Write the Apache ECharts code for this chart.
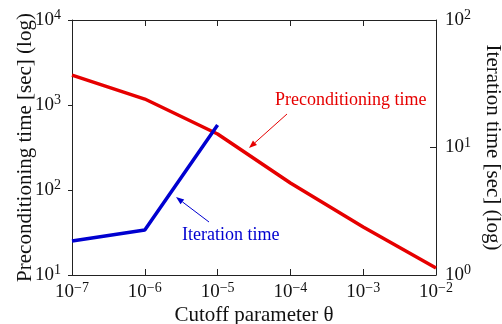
<!DOCTYPE html>
<html><head><meta charset="utf-8">
<script src="https://cdn.jsdelivr.net/npm/echarts@6/dist/echarts.min.js"></script>
<style>html,body{margin:0;padding:0;background:#fff}#c{width:502px;height:324px}</style>
</head><body><div id="c"></div>
<script>
const cutoff = [1e-7, 1e-6, 1e-5, 1e-4, 1e-3, 1e-2];
const precondTime = [2250, 1175, 456, 121, 36.7, 12.1];
const iterCutoff = [1e-7, 1e-6, 1e-5];
const iterTime = [1.85, 2.25, 15.0];

const FONT = '"Liberation Serif","DejaVu Serif",serif';
const RED = '#e60000', BLUE = '#0000d0';

function supLabel(v) {
  const e = Math.round(Math.log10(v));
  return '{b|10}{s|' + String(e).replace('-', '\u2212') + '}';
}
const rich = {
  b: {fontFamily: FONT, fontSize: 19, color: '#111'},
  s: {fontFamily: FONT, fontSize: 14, color: '#111', padding: [0, 0, 9, 0]}
};

function arrow(x1, y1, x2, y2, color) {
  const a = Math.atan2(y2 - y1, x2 - x1), L = 8, W = 3;
  const bx = x2 - L * Math.cos(a), by = y2 - L * Math.sin(a);
  const px = -Math.sin(a) * W, py = Math.cos(a) * W;
  return [
    {type: 'line', shape: {x1: x1, y1: y1, x2: bx, y2: by}, style: {stroke: color, lineWidth: 1}},
    {type: 'polygon', shape: {points: [[x2, y2], [bx + px, by + py], [bx - px, by - py]]}, style: {fill: color}}
  ];
}

const chart = echarts.init(document.getElementById('c'));
chart.setOption({
  animation: false,
  backgroundColor: '#fff',
  grid: {left: 72, right: 66, top: 20, bottom: 49, containLabel: false, outerBoundsMode: 'none'},
  xAxis: [{
    type: 'log', min: 1e-7, max: 1e-2, logBase: 10,
    name: 'Cutoff parameter \u03b8', nameLocation: 'middle', nameGap: 30, nameMoveOverlap: false,
    nameTextStyle: {fontFamily: FONT, fontSize: 21, color: '#111', verticalAlign: 'top'},
    axisLine: {lineStyle: {color: '#222', width: 1}},
    axisTick: {inside: true, length: 6, lineStyle: {color: '#222'}},
    minorTick: {show: false},
    splitLine: {show: false},
    axisLabel: {formatter: supLabel, rich: rich, margin: 6}
  }, {
    type: 'log', min: 1e-7, max: 1e-2, logBase: 10, position: 'top',
    axisLine: {lineStyle: {color: '#222', width: 1}},
    axisTick: {inside: true, length: 6, lineStyle: {color: '#222'}},
    splitLine: {show: false},
    axisLabel: {show: false}
  }],
  yAxis: [{
    type: 'log', min: 10, max: 1e4, logBase: 10, position: 'left',
    name: 'Preconditioning time [sec] (log)', nameLocation: 'middle', nameGap: 36, nameRotate: 90, nameMoveOverlap: false,
    nameTextStyle: {fontFamily: FONT, fontSize: 21, color: '#111'},
    axisLine: {show: true, lineStyle: {color: '#222', width: 1}},
    axisTick: {show: true, inside: false, length: 4, lineStyle: {color: '#222'}},
    splitLine: {show: false},
    axisLabel: {formatter: supLabel, rich: rich, margin: 11}
  }, {
    type: 'log', min: 1, max: 100, logBase: 10, position: 'right',
    name: 'Iteration time [sec] (log)', nameLocation: 'middle', nameGap: 46, nameRotate: -90, nameMoveOverlap: false,
    nameTextStyle: {fontFamily: FONT, fontSize: 21, color: '#111'},
    axisLine: {show: true, lineStyle: {color: '#222', width: 1}},
    axisTick: {show: true, inside: true, length: 6, lineStyle: {color: '#222'}},
    splitLine: {show: false},
    axisLabel: {formatter: supLabel, rich: rich, margin: 9}
  }],
  series: [{
    type: 'line', xAxisIndex: 0, yAxisIndex: 0,
    data: cutoff.map((x, i) => [x, precondTime[i]]),
    symbol: 'none', lineStyle: {color: RED, width: 3.5}
  }, {
    type: 'line', xAxisIndex: 0, yAxisIndex: 1,
    data: iterCutoff.map((x, i) => [x, iterTime[i]]),
    symbol: 'none', lineStyle: {color: BLUE, width: 3.5}
  }],
  graphic: [
    {type: 'text', left: 275, top: 91, style: {text: 'Preconditioning time', fill: RED, font: '18px ' + FONT}},
    {type: 'text', left: 182, top: 226, style: {text: 'Iteration time', fill: BLUE, font: '18px ' + FONT}}
  ].concat(arrow(287, 114, 249, 148, RED)).concat(arrow(209, 222, 176, 197, BLUE))
});
</script>
</body></html>
